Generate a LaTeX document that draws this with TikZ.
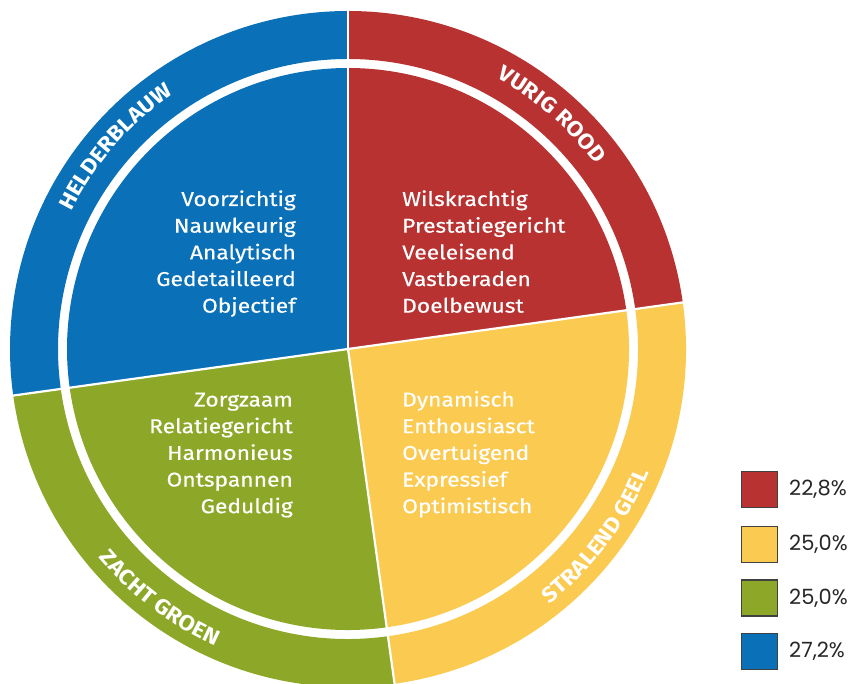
\documentclass[tikz,border=0pt]{standalone}
\usepackage{fontspec}
\setmainfont{Fira Sans}
\newfontfamily\legfont{Poppins}
\newfontfamily\innerfont{Fira Sans}[FakeStretch=1.14, FakeBold=0.35]
\newfontfamily\ringfam{Fira Sans Bold}[FakeStretch=1.09]
\usetikzlibrary{decorations.text,calc}
\definecolor{cred}{RGB}{184,50,50}
\definecolor{cyel}{RGB}{251,202,80}
\definecolor{cgrn}{RGB}{141,168,40}
\definecolor{cblu}{RGB}{10,112,184}
\newcommand\ringfont{\color{white}\ringfam\fontsize{21.5}{25}\selectfont}
\tikzset{
  inlbl/.style={text=white, font=\innerfont\fontsize{20}{24}\selectfont, inner sep=0pt},
  sep/.style={white, line width=2.2pt},
  legbox/.style={draw=black!75, line width=1.2pt, minimum size=36pt, inner sep=0pt},
  legtxt/.style={font=\legfont\fontsize{21}{24}\selectfont, text=black!85, anchor=west, inner sep=0pt},
}
\begin{document}
\begin{tikzpicture}[x=1pt,y=1pt]
\useasboundingbox (0,0) rectangle (851,684);
\coordinate (C) at (348,335);
\def\rin{281}\def\rga{290}\def\rout{338}
\foreach \col/\a/\b in {cred/90/7.92, cyel/7.92/-82.08, cgrn/-82.08/-172.08, cblu/-172.08/-270} {
  \fill[\col] (C) -- ($(C)+(\a:\rin)$) arc[start angle=\a, end angle=\b, radius=\rin] -- cycle;
  \fill[\col] ($(C)+(\a:\rga)$) arc[start angle=\a, end angle=\b, radius=\rga]
     -- ($(C)+(\b:\rout)$) arc[start angle=\b, end angle=\a, radius=\rout] -- cycle;
}
\foreach \a in {90,7.92,-82.08,-172.08}
  \draw[sep] (C) -- ($(C)+(\a:341)$);
% ring labels
\path[decorate, decoration={text along path, text align=center, text={|\ringfont|HELDERBLAUW}}]
  ($(C)+(179:309)$) arc[start angle=179, end angle=99, radius=309];
\path[decorate, decoration={text along path, text align=center, text={|\ringfont|VURIG ROOD}}]
  ($(C)+(89:309)$) arc[start angle=89, end angle=9, radius=309];
\path[decorate, decoration={text along path, text align=center, text={|\ringfont|STRALEND GEEL}}]
  ($(C)+(-77:325)$) arc[start angle=-77, end angle=3, radius=325];
\path[decorate, decoration={text along path, text align=center, text={|\ringfont|ZACHT GROEN}}]
  ($(C)+(-167:325)$) arc[start angle=-167, end angle=-87, radius=325];
% inner labels
\foreach \w [count=\i] in {Voorzichtig,Nauwkeurig,Analytisch,Gedetailleerd,Objectief}
  \node[inlbl, anchor=base east] (bl\i) at (296,{478-(\i-1)*26.67}) {\w};
\foreach \w [count=\i] in {Wilskrachtig,Prestatiegericht,Veeleisend,Vastberaden,Doelbewust}
  \node[inlbl, anchor=base west] (rd\i) at (402,{478-(\i-1)*26.67}) {\w};
\foreach \w [count=\i] in {Zorgzaam,Relatiegericht,Harmonieus,Ontspannen,Geduldig}
  \node[inlbl, anchor=base east] (gr\i) at (293,{277.5-(\i-1)*26.67}) {\w};
\foreach \w [count=\i] in {Dynamisch,Enthousiasct,Overtuigend,Expressief,Optimistisch}
  \node[inlbl, anchor=base west] (ye\i) at (402,{277.5-(\i-1)*26.67}) {\w};
% legend
\foreach \col/\y/\t [count=\i] in {cred/194.5/{22,8\%}, cyel/139.5/{25,0\%}, cgrn/86/{25,0\%}, cblu/32.5/{27,2\%}} {
  \node[legbox, fill=\col] (sq\i) at (759.5,\y) {};
  \node[legtxt] (lt\i) at (789,\y) {\t};
}
\end{tikzpicture}
\end{document}
